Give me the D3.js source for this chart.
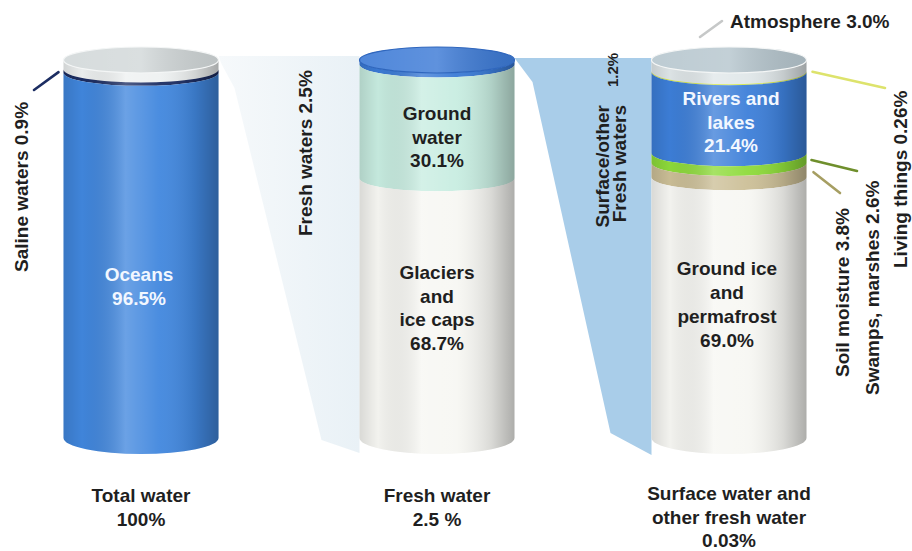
<!DOCTYPE html>
<html>
<head>
<meta charset="utf-8">
<script src="https://cdn.jsdelivr.net/npm/d3@7"></script>
<style>
  html, body { margin: 0; padding: 0; background: #ffffff; }
  svg { display: block; }
  text { font-family: "Liberation Sans", Arial, Helvetica, sans-serif; font-weight: bold; }
</style>
</head>
<body>
<svg id="chart" width="912" height="551"></svg>
<script>
// ---- data -------------------------------------------------------------
const cylinders = ["Total water", "Fresh water", "Surface water"];
const cylinderCaptions = [
  ["Total water", "100%"],
  ["Fresh water", "2.5 %"],
  ["Surface water and", "other fresh water", "0.03%"]
];

// Total water, top to bottom
const totalBands  = ["Fresh waters", "Saline waters", "Oceans"];
const totalValues = [2.5, 0.9, 96.5];

// Fresh water, top to bottom
const freshBands  = ["Surface/other fresh waters", "Ground water", "Glaciers and ice caps"];
const freshValues = [1.2, 30.1, 68.7];

// Surface and other fresh water, top to bottom
const surfaceBands  = ["Atmosphere", "Living things", "Rivers and lakes", "Swamps, marshes", "Soil moisture", "Ground ice and permafrost"];
const surfaceValues = [3.0, 0.26, 21.4, 2.6, 3.8, 69.0];

// ---- styles -------------------------------------------------------------
const totalColors   = ["#eef1f1", "#1c2d62", "#4187de"];
const freshColors   = ["#3b7bd6", "#c8ede1", "#f7f7f3"];
const surfaceColors = ["#e0e7e9", "#d3e64a", "#3d7fd9", "#8edb3a", "#ccbf97", "#f7f7f3"];
const topColors     = ["#d2d8d9", "#3c7ad6", "#b6c6ce"];
const ink = "#1f1f1f";

// ---- layout -------------------------------------------------------------
const yTop = 60, yBottom = 438, rx = 77.5, ry = 13, ryBase = 16;
const xCenter = d3.scaleOrdinal(cylinders, [141, 437, 729]);

const svg = d3.select("#chart");
const defs = svg.append("defs");

// horizontal shading that gives the bodies their round look
const shade = defs.append("linearGradient").attr("id", "shade")
  .attr("x1", "0%").attr("x2", "100%").attr("y1", "0%").attr("y2", "0%");
[[0, "#000", 0.12], [0.12, "#000", 0.02], [0.4, "#fff", 0.22], [0.62, "#fff", 0.05],
 [0.85, "#000", 0.12], [1, "#000", 0.30]]
  .forEach(([o, c, a]) => shade.append("stop").attr("offset", o).attr("stop-color", c).attr("stop-opacity", a));

const topShade = defs.append("linearGradient").attr("id", "topShade")
  .attr("x1", "0%").attr("x2", "100%").attr("y1", "0%").attr("y2", "0%");
[[0, "#fff", 0.10], [0.5, "#fff", 0.18], [1, "#000", 0.10]]
  .forEach(([o, c, a]) => topShade.append("stop").attr("offset", o).attr("stop-color", c).attr("stop-opacity", a));

const funnelFade = defs.append("linearGradient").attr("id", "funnelFade")
  .attr("x1", "0%").attr("x2", "100%").attr("y1", "0%").attr("y2", "0%");
funnelFade.append("stop").attr("offset", 0).attr("stop-color", "#f6f9fb");
funnelFade.append("stop").attr("offset", 1).attr("stop-color", "#e9f1f6");

// band outline: lower arc at y0, down the sides, lower arc at y1
function bandPath(cx, y0, y1, ry0 = ry, ry1 = ry) {
  return `M${cx - rx},${y0} L${cx - rx},${y1} A${rx},${ry1} 0 0 0 ${cx + rx},${y1} ` +
         `L${cx + rx},${y0} A${rx},${ry0} 0 0 1 ${cx - rx},${y0} Z`;
}

// stacked bands for one cylinder, measured with a linear scale
function stack(values) {
  const total = d3.sum(values);
  const y = d3.scaleLinear().domain([0, total]).range([yTop, yBottom]);
  let acc = 0;
  return values.map(v => { const s = acc; acc += v; return { y0: y(s), y1: y(acc), value: v }; });
}

const stacks = [
  { name: cylinders[0], bands: totalBands,   values: totalValues,   colors: totalColors },
  { name: cylinders[1], bands: freshBands,   values: freshValues,   colors: freshColors },
  { name: cylinders[2], bands: surfaceBands, values: surfaceValues, colors: surfaceColors }
].map(d => ({ ...d, cx: xCenter(d.name), rows: stack(d.values) }));

// ---- connectors between cylinders ------------------------------------------
const c0 = stacks[0].cx, c1 = stacks[1].cx, c2 = stacks[2].cx;
svg.append("path")
  .attr("d", d3.line()([
    [c0 + rx, yTop - 4], [c1 - rx, yTop - 4], [c1 - rx, yBottom + 15],
    [c1 - rx - 38, yBottom + 2], [c0 + rx + 16, yTop + 28], [c0 + rx + 3, yTop + 4]
  ]) + "Z")
  .attr("fill", "url(#funnelFade)");

svg.append("path")
  .attr("d", d3.line()([
    [c1 + rx, yTop - 2], [c2 - rx, yTop - 2], [c2 - rx, yBottom + 17],
    [c2 - rx - 41, yBottom - 5], [c1 + rx + 18, yTop + 22]
  ]) + "Z")
  .attr("fill", "#a9cde9");

// ---- cylinders ------------------------------------------------------------
const cyl = svg.selectAll("g.cyl").data(stacks).join("g").attr("class", "cyl");

cyl.each(function (d, i) {
  const g = d3.select(this);
  const last = d.rows.length - 1;
  g.selectAll("path.band").data(d.rows).join("path")
    .attr("class", "band")
    .attr("d", (r, j) => bandPath(d.cx, r.y0, r.y1, ry, j === last ? ryBase : ry))
    .attr("fill", (r, j) => d.colors[j]);
  // shading over the whole body
  g.append("path").attr("d", bandPath(d.cx, yTop, yBottom, ry, ryBase)).attr("fill", "url(#shade)");
  // top face
  g.append("ellipse").attr("cx", d.cx).attr("cy", yTop).attr("rx", rx).attr("ry", ry)
    .attr("fill", topColors[i]);
  g.append("ellipse").attr("cx", d.cx).attr("cy", yTop).attr("rx", rx).attr("ry", ry)
    .attr("fill", "url(#topShade)")
    .attr("stroke", i === 1 ? "#2f66bd" : "#f4f6f6").attr("stroke-width", 1.2);
});

// ---- text helpers ---------------------------------------------------------------
const pct1 = v => d3.format(".1f")(v) + "%";

function block(x, yFirst, lines, color, step = 23.5, size = 19) {
  const t = svg.append("text").attr("text-anchor", "middle").attr("fill", color)
    .style("font-size", size + "px");
  lines.forEach((s, k) => t.append("tspan").attr("x", x).attr("y", yFirst + k * step).text(s));
  return t;
}

function vtext(x, y, text, anchor = "start", size = 19, color = ink) {
  return svg.append("text")
    .attr("transform", `translate(${x},${y}) rotate(-90)`)
    .attr("text-anchor", anchor).attr("fill", color)
    .style("font-size", size + "px").text(text);
}

function leader(x1, y1, x2, y2, color) {
  svg.append("line").attr("x1", x1).attr("y1", y1).attr("x2", x2).attr("y2", y2)
    .attr("stroke", color).attr("stroke-width", 2.6).attr("stroke-linecap", "round");
}

const mid = (s, j) => (s.rows[j].y0 + s.rows[j].y1) / 2;

// ---- labels inside the cylinders ------------------------------------------------
const [sT, sF, sS] = stacks;
block(c0 - 2, 281, ["Oceans", pct1(totalValues[2])], "#f2f7ff", 24);
block(c1, 120, ["Ground", "water", pct1(freshValues[1])], ink, 23.5);
block(c1, 279, ["Glaciers", "and", "ice caps", pct1(freshValues[2])], ink, 23.7);
block(c2 + 2, 105, ["Rivers and", "lakes", pct1(surfaceValues[2])], "#f2f7ff", 23.5);
block(c2 - 2, 275, ["Ground ice", "and", "permafrost", pct1(surfaceValues[5])], ink, 24);

// ---- captions below ----------------------------------------------------------------
cylinderCaptions.forEach((lines, i) => block(xCenter(cylinders[i]), i === 2 ? 500 : 502, lines, ink, 23.5));

// ---- side labels and leader lines ---------------------------------------------------
leader(c0 - rx - 5, mid(sT, 1) + 1, 34, 90, "#1c2d62");
vtext(28, 272, `${totalBands[1]}  ${pct1(totalValues[1])}`);

vtext(312, 236, `${totalBands[0]} ${pct1(totalValues[0])}`);

// two-line label for the surface/other share
const so = svg.append("g").attr("transform", "translate(609,105) rotate(-90)");
so.append("text").attr("text-anchor", "end").attr("fill", ink).style("font-size", "19px").text("Surface/other");
so.append("text").attr("text-anchor", "end").attr("y", 17).attr("fill", ink).style("font-size", "19px").text("Fresh waters");
so.append("text").attr("x", 18).attr("y", 8.5).attr("fill", ink).style("font-size", "15px").text(pct1(freshValues[0]));

// atmosphere
leader(700, 37, 722, 21, "#c6c8c8");
svg.append("text").attr("x", 730).attr("y", 28).attr("fill", ink).style("font-size", "19px")
  .text(`${surfaceBands[0]} ${pct1(surfaceValues[0])}`);

// living things, swamps, soil moisture
leader(c2 + rx + 6, mid(sS, 1), 885, 88, "#dde36c");
vtext(907, 268, `${surfaceBands[1]} ${d3.format(".2f")(surfaceValues[1])}%`);

leader(c2 + rx + 5, mid(sS, 3) + 2, 857, 171, "#6f8f2c");
vtext(879, 395, `${surfaceBands[3]} ${pct1(surfaceValues[3])}`);

leader(c2 + rx + 7, mid(sS, 4) + 2, 840, 193, "#a69e62");
vtext(849, 377, `${surfaceBands[4]} ${pct1(surfaceValues[4])}`);
</script>
</body>
</html>
